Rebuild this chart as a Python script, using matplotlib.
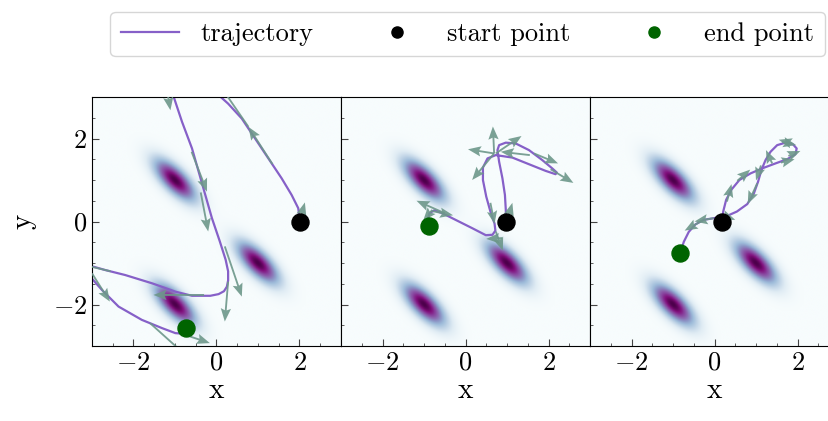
import numpy as np
import matplotlib.pyplot as plt
from matplotlib.lines import Line2D
from matplotlib.ticker import MultipleLocator

plt.rcParams.update({
    'font.family': 'serif',
    'font.serif': ['cmr10'],
    'mathtext.fontset': 'cm',
    'axes.formatter.use_mathtext': True,
    'font.size': 19,
    'axes.labelsize': 21,
    'xtick.direction': 'in',
    'ytick.direction': 'in',
    'xtick.major.size': 5,
    'ytick.major.size': 5,
    'xtick.minor.size': 2.5,
    'ytick.minor.size': 2.5,
    'xtick.color': '#444444',
    'ytick.color': '#444444',
    'xtick.labelcolor': 'black',
    'ytick.labelcolor': 'black',
})

# target density: three correlated gaussians
centers = np.array([[-1.0, 1.0], [1.0, -1.0], [-1.0, -2.0]])
cov = np.array([[0.12, -0.085], [-0.085, 0.12]])

# trajectories (x, y) for each sampler
traj_1 = np.array([
    (2.01, 0.0), (1.97, 0.32), (1.81, 0.64), (1.57, 1.04), (1.25, 1.52), (0.93, 2.0),
    (0.61, 2.48), (0.28, 2.84), (0.08, 3.02), (-0.15, 3.25), (-0.5, 3.4), (-0.85, 3.3),
    (-1.03, 3.0), (-0.83, 2.4), (-0.59, 1.76), (-0.43, 1.2), (-0.27, 0.64), (-0.11, 0.08),
    (0.08, -0.48), (0.22, -0.92), (0.28, -1.2), (0.28, -1.42), (0.25, -1.57), (0.18, -1.68),
    (0.05, -1.75), (-0.15, -1.79), (-0.59, -1.79), (-0.99, -1.69), (-1.55, -1.49),
    (-2.2, -1.29), (-2.68, -1.17), (-2.96, -1.09), (-3.1, -1.12), (-3.15, -1.2),
    (-3.05, -1.32), (-2.76, -1.65), (-2.36, -2.05), (-1.8, -2.37), (-1.31, -2.57),
    (-0.99, -2.69), (-0.85, -2.7), (-0.76, -2.64), (-0.73, -2.57),
])
traj_2 = np.array([
    (0.98, 0.0), (0.97, 0.3), (0.95, 0.64), (0.89, 1.04), (0.81, 1.44), (0.77, 1.72),
    (0.81, 1.84), (0.97, 1.9), (1.21, 1.88), (1.53, 1.72), (1.85, 1.48), (2.09, 1.28),
    (2.2, 1.18), (2.17, 1.14), (1.93, 1.22), (1.53, 1.38), (1.13, 1.54), (0.73, 1.6),
    (0.53, 1.52), (0.42, 1.3), (0.42, 1.0), (0.5, 0.6), (0.6, 0.24), (0.7, -0.05),
    (0.72, -0.22), (0.65, -0.32), (0.49, -0.33), (0.16, -0.16), (-0.24, 0.04),
    (-0.56, 0.2), (-0.75, 0.27), (-0.87, 0.2), (-0.9, 0.05), (-0.88, -0.1),
])
traj_3 = np.array([
    (0.18, 0.0), (0.21, 0.24), (0.28, 0.52), (0.41, 0.77), (0.6, 1.0), (0.87, 1.16),
    (1.15, 1.28), (1.47, 1.4), (1.75, 1.5), (1.95, 1.62), (1.98, 1.76), (1.89, 1.86),
    (1.71, 1.9), (1.51, 1.84), (1.35, 1.68), (1.23, 1.48), (1.13, 1.24), (1.05, 0.96),
    (0.95, 0.68), (0.79, 0.42), (0.54, 0.24), (0.27, 0.12), (-0.02, 0.08), (-0.26, 0.04),
    (-0.46, -0.07), (-0.62, -0.25), (-0.74, -0.49), (-0.82, -0.75),
])

# force arrows: tail and head positions
tails_1 = np.array([(2.0, 0.0), (1.35, 1.38), (0.77, 2.28), (-1.25, 3.5), (-0.6, 1.68),
                    (-0.38, 0.7), (0.2, -0.6), (0.28, -1.45), (-0.3, -1.77), (-2.55, -1.2),
                    (-3.0, -1.25), (-1.6, -2.45), (-0.85, -2.7)])
heads_1 = np.array([(2.13, 0.46), (0.77, 2.28), (0.0, 3.4), (-1.11, 2.68), (-0.23, 0.72),
                    (-0.2, -0.24), (0.61, -1.81), (0.2, -2.41), (-1.52, -1.77), (-3.6, -0.95),
                    (-2.57, -1.93), (-0.6, -3.35), (-0.16, -2.93)])
tails_2 = np.array([(1.0, 0.0), (0.69, 1.64), (0.69, 1.64), (0.69, 1.64), (0.73, 1.64),
                    (1.55, 1.6), (1.65, 1.64), (2.05, 1.26), (0.6, 0.45), (0.88, -0.4),
                    (0.73, -0.24), (-0.5, 0.2), (-0.8, 0.25), (-0.8, 0.28)])
heads_2 = np.array([(1.13, 0.45), (0.66, 2.29), (0.06, 1.74), (0.16, 1.0), (1.35, 2.06),
                    (0.85, 1.68), (2.23, 1.4), (2.6, 0.93), (0.7, -0.06), (0.5, -0.42),
                    (0.9, -0.7), (-1.18, 0.5), (-0.3, 0.15), (-1.02, 0.02)])
tails_3 = np.array([(-0.3, 0.02), (-0.02, 0.08), (0.2, 0.15), (1.03, 0.92), (0.3, 0.48),
                    (0.55, 0.98), (1.12, 1.35), (1.39, 1.4), (1.87, 1.88), (1.63, 1.92),
                    (1.78, 1.58), (1.6, 1.42)])
heads_3 = np.array([(-0.72, -0.22), (-0.48, 0.0), (0.5, 0.04), (0.8, 0.42), (0.41, 0.9),
                    (0.86, 1.25), (1.0, 0.99), (1.24, 1.72), (1.55, 1.97), (1.97, 1.84),
                    (2.07, 1.7), (1.93, 1.5)])

trajectories = [traj_1, traj_2, traj_3]
arrow_tails = [tails_1, tails_2, tails_3]
arrow_heads = [heads_1, heads_2, heads_3]

line_color = '#8660c8'
arrow_color = '#6d978a'

# density on a grid
grid = np.linspace(-3, 3, 400)
X, Y = np.meshgrid(grid, grid)
pts = np.stack([X, Y], axis=-1)
inv = np.linalg.inv(cov)
Z = np.zeros_like(X)
for c in centers:
    d = pts - c
    Z += np.exp(-0.5 * np.einsum('...i,ij,...j->...', d, inv, d))
Z /= Z.max()

fig = plt.figure(figsize=(8.29, 4.21), dpi=100)
W, H = 829, 421
axes = []
for i in range(3):
    left = (92 + 249 * i) / W
    ax = fig.add_axes([left, (421 - 346) / H, 249 / W, 249 / H])
    axes.append(ax)

for i, ax in enumerate(axes):
    ax.imshow(Z, extent=(-3, 3, -3, 3), origin='lower', cmap='BuPu',
              interpolation='bilinear', aspect='auto', zorder=0)
    tr = trajectories[i]
    ax.plot(tr[:, 0], tr[:, 1], color=line_color, lw=1.6, zorder=2)
    t, h = arrow_tails[i], arrow_heads[i]
    ax.quiver(t[:, 0], t[:, 1], h[:, 0] - t[:, 0], h[:, 1] - t[:, 1],
              angles='xy', scale_units='xy', scale=1, color=arrow_color, alpha=0.9,
              width=0.0075, headwidth=5.5, headlength=7, headaxislength=6, zorder=3)
    ax.scatter(tr[0, 0], tr[0, 1], s=150, color='black', zorder=4)
    ax.scatter(tr[-1, 0], tr[-1, 1], s=150, color='darkgreen', zorder=4)
    ax.set_xlim(-3, 3)
    ax.set_ylim(-3, 3)
    ax.xaxis.set_major_locator(MultipleLocator(2))
    ax.yaxis.set_major_locator(MultipleLocator(2))
    ax.xaxis.set_minor_locator(MultipleLocator(0.5))
    ax.yaxis.set_minor_locator(MultipleLocator(0.5))
    ax.set_xlabel('x', labelpad=2)
    if i == 0:
        ax.set_ylabel('y', labelpad=12)
    else:
        ax.tick_params(labelleft=False)

handles = [
    Line2D([], [], color=line_color, lw=1.6),
    Line2D([], [], marker='o', ls='', color='black', markersize=8),
    Line2D([], [], marker='o', ls='', color='darkgreen', markersize=8),
]
fig.legend(handles, ['trajectory', 'start point', 'end point'], loc='lower left',
           bbox_to_anchor=(0.133, 0.866, 0.862, 0.105), mode='expand', ncol=3,
           borderaxespad=0, fontsize=19, handlelength=2.2, edgecolor='#cccccc')

fig.savefig('out.png', dpi=100)
